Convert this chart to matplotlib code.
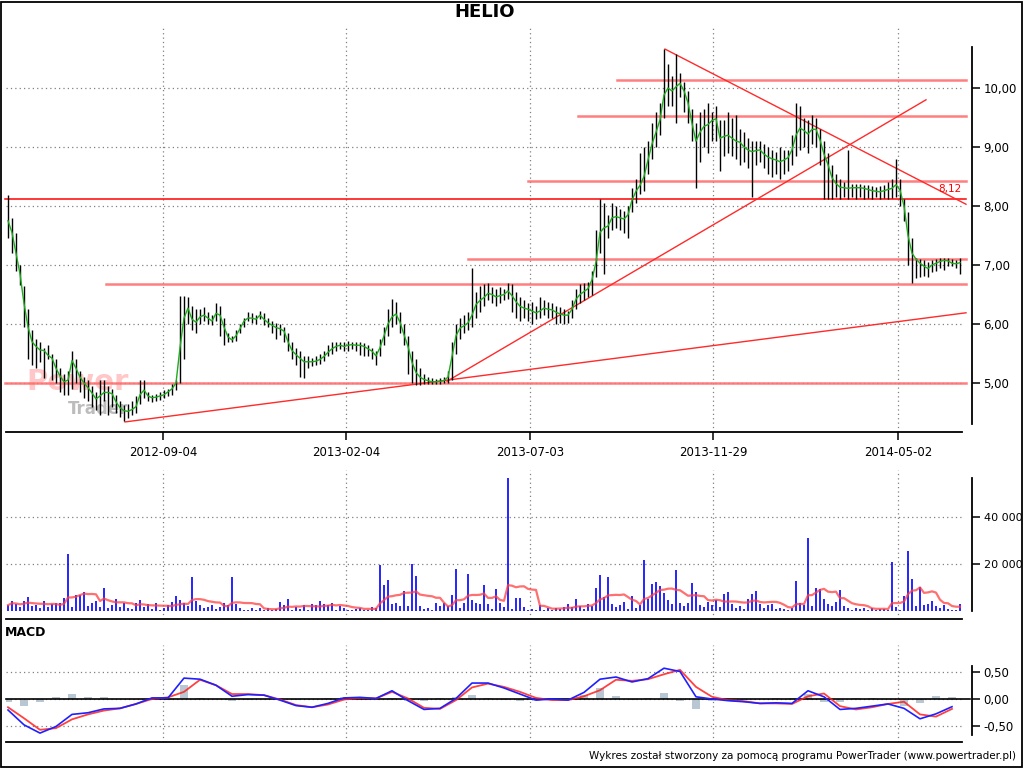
import numpy as np
import pandas as pd
import matplotlib
matplotlib.use("Agg")
import matplotlib.pyplot as plt
from matplotlib.patches import Rectangle
from matplotlib.ticker import FuncFormatter

# ---------------- data ----------------
title = "HELIO"
tick_labels = ["2012-09-04", "2013-02-04", "2013-07-03", "2013-11-29", "2014-05-02"]
tick_pos = [38.75, 84.5, 130.5, 176.25, 222.5]

avg = [7.75,7.55,7.20,6.85,6.35,5.95,5.70,5.62,5.56,5.55,
 5.47,5.42,5.25,5.12,5.02,5.05,5.38,5.25,5.10,5.00,
 4.92,4.83,4.73,4.78,4.84,4.84,4.82,4.68,4.58,4.53,
 4.52,4.55,4.60,4.80,4.88,4.78,4.75,4.76,4.78,4.80,
 4.85,4.90,5.00,5.60,6.10,6.27,6.08,6.03,6.12,6.15,
 6.10,6.05,6.18,6.15,5.95,5.78,5.73,5.80,5.92,6.05,
 6.10,6.10,6.08,6.15,6.08,6.02,5.98,5.94,5.92,5.88,
 5.70,5.55,5.48,5.42,5.36,5.36,5.36,5.37,5.40,5.45,
 5.52,5.58,5.62,5.64,5.62,5.64,5.65,5.64,5.64,5.62,
 5.58,5.54,5.46,5.60,5.80,6.00,6.12,6.17,6.03,5.82,
 5.62,5.35,5.18,5.10,5.06,5.04,5.02,5.02,5.03,5.04,
 5.10,5.45,5.80,5.93,5.97,6.02,6.15,6.33,6.40,6.45,
 6.52,6.50,6.46,6.48,6.50,6.56,6.48,6.38,6.30,6.27,
 6.25,6.22,6.19,6.22,6.27,6.25,6.24,6.20,6.17,6.15,
 6.15,6.25,6.42,6.50,6.55,6.60,6.75,7.05,7.55,7.63,
 7.66,7.80,7.82,7.80,7.78,7.85,8.10,8.25,8.35,8.50,
 8.78,9.05,9.25,9.46,9.88,10.00,9.95,10.02,10.08,9.95,
 9.75,9.40,9.10,9.25,9.35,9.38,9.45,9.48,9.15,9.18,
 9.20,9.15,9.10,9.08,9.00,8.95,8.92,8.94,8.95,8.88,
 8.83,8.80,8.78,8.75,8.78,8.82,8.95,9.20,9.32,9.28,
 9.22,9.30,9.30,9.12,8.88,8.70,8.48,8.38,8.32,8.31,
 8.30,8.31,8.31,8.31,8.30,8.28,8.26,8.25,8.24,8.26,
 8.28,8.30,8.36,8.27,8.00,7.50,7.20,7.10,7.03,6.98,
 6.94,7.00,7.03,7.06,7.08,7.07,7.03,7.02,7.04]

high = [8.19,7.80,7.55,7.00,6.65,6.25,5.90,5.75,5.70,5.60,
 5.65,5.50,5.40,5.25,5.15,5.20,5.55,5.40,5.20,5.10,
 5.05,4.95,4.85,5.05,5.05,4.95,4.90,4.80,4.70,4.62,
 4.65,4.70,4.78,5.05,5.05,4.85,4.80,4.82,4.85,4.88,
 4.90,4.98,5.05,6.48,6.47,6.45,6.30,6.25,6.25,6.28,
 6.20,6.15,6.35,6.30,6.10,5.85,5.80,5.90,6.00,6.10,
 6.20,6.18,6.15,6.22,6.18,6.10,6.05,6.02,6.00,5.95,
 5.85,5.70,5.60,5.55,5.45,5.45,5.42,5.45,5.50,5.55,
 5.65,5.70,5.70,5.70,5.70,5.72,5.70,5.70,5.70,5.68,
 5.65,5.60,5.55,5.75,5.95,6.25,6.42,6.38,6.20,6.00,
 5.80,5.55,5.40,5.25,5.15,5.10,5.08,5.06,5.08,5.10,
 5.20,5.70,6.00,6.10,6.15,6.20,6.95,6.55,6.65,6.68,
 6.70,6.62,6.60,6.62,6.60,6.70,6.68,6.55,6.45,6.40,
 6.35,6.38,6.30,6.45,6.40,6.38,6.35,6.30,6.28,6.25,
 6.22,6.40,6.60,6.68,6.70,6.72,6.90,7.60,8.12,8.05,
 7.85,8.05,8.00,7.95,7.92,8.00,8.30,8.45,8.90,9.00,
 9.10,9.40,9.60,9.75,10.66,10.40,10.20,10.58,10.25,10.10,
 9.95,9.65,9.40,9.60,9.65,9.75,9.60,9.70,9.45,9.45,
 9.60,9.50,9.55,9.30,9.25,9.15,9.10,9.10,9.10,9.05,
 9.00,8.95,8.92,9.00,8.95,8.95,9.20,9.75,9.70,9.50,
 9.45,9.55,9.50,9.30,9.10,8.90,8.70,8.55,8.45,8.40,
 8.95,8.38,8.38,8.38,8.36,8.35,8.34,8.32,8.34,8.36,
 8.40,8.45,8.80,8.45,8.12,7.90,7.45,7.12,7.10,7.08,
 7.05,7.08,7.10,7.12,7.12,7.12,7.10,7.08,7.12]

low = [7.45,7.20,6.90,6.66,5.95,5.40,5.30,5.25,5.35,5.08,
 5.40,5.05,5.00,4.85,4.80,4.80,4.90,5.00,4.85,4.75,
 4.70,4.60,4.55,4.45,4.70,4.45,4.60,4.50,4.42,4.36,
 4.40,4.45,4.50,4.65,4.75,4.70,4.68,4.70,4.72,4.75,
 4.78,4.80,4.88,5.00,5.40,6.00,5.90,5.85,6.00,6.05,
 6.00,5.98,6.05,5.80,5.65,5.70,5.70,5.72,5.85,5.95,
 6.05,6.02,6.00,6.08,5.98,5.95,5.85,5.75,5.82,5.70,
 5.55,5.40,5.30,5.10,5.08,5.25,5.28,5.30,5.32,5.38,
 5.45,5.50,5.55,5.58,5.55,5.55,5.58,5.55,5.48,5.45,
 5.45,5.40,5.30,5.45,5.65,5.80,5.95,6.00,5.85,5.65,
 5.15,5.00,4.97,4.97,4.98,4.98,4.98,4.98,4.99,5.00,
 5.00,5.05,5.50,5.75,5.85,5.90,5.95,6.10,6.20,6.30,
 6.40,6.35,6.30,6.35,6.40,6.42,6.20,6.10,6.05,6.10,
 6.05,6.00,6.08,6.10,6.15,6.10,6.10,6.00,6.02,6.00,
 6.02,6.10,6.25,6.35,6.40,6.45,6.50,6.80,7.20,6.85,
 7.45,7.60,7.62,7.60,7.55,7.45,7.90,8.05,8.20,8.25,
 8.55,8.80,9.00,9.20,9.50,9.70,9.70,9.40,9.85,9.60,
 9.40,9.10,8.30,8.75,9.00,8.90,9.10,9.10,8.60,8.85,
 8.90,8.85,8.80,8.70,8.75,8.65,8.15,8.70,8.75,8.65,
 8.55,8.50,8.55,8.45,8.55,8.60,8.70,8.85,8.95,9.00,
 8.90,9.05,9.00,8.70,8.12,8.12,8.12,8.15,8.12,8.15,
 8.12,8.15,8.12,8.15,8.12,8.14,8.12,8.15,8.12,8.14,
 8.12,8.14,8.15,8.00,7.75,7.00,6.70,6.78,6.80,6.82,
 6.80,6.88,6.90,6.95,6.92,6.98,6.98,6.95,6.85]

volume = [2500,4100,3000,1800,4100,6000,2000,2400,1200,4100,
 1500,2800,3600,3200,5400,24100,1500,6700,6700,8000,
 2000,3600,4100,1500,9700,1200,2500,5000,1800,3600,
 1300,1000,3200,4500,1800,2800,1000,3200,600,1200,
 2400,3700,6200,4500,3200,2000,14300,4100,2400,1400,
 1800,2400,800,1500,3300,2400,14300,3000,1400,600,
 400,1400,400,1400,300,1100,400,700,3700,2400,
 5000,500,1700,700,2400,500,2800,2400,4100,2800,
 2400,3600,400,2000,1200,600,400,900,1400,300,
 500,1800,1400,19500,11000,13000,3000,3300,2000,8400,
 2000,20200,14900,2100,800,1200,600,3300,2000,3400,
 2000,6700,17700,1100,3600,15600,4500,3300,2800,11000,
 2800,900,9200,3300,1500,56500,900,5700,5500,1500,
 400,1000,400,2400,500,1200,600,1400,800,1700,
 2800,1500,5000,2000,700,3000,2000,10000,15300,5800,
 14300,2800,1800,2400,4000,1000,6400,1400,2400,21600,
 5000,11400,12500,10800,7500,4800,2800,17300,3600,2000,
 3200,12000,8000,2400,1800,4000,2400,4600,1500,7400,
 8000,2800,1400,2000,1000,5000,7100,8500,2800,1400,
 2400,3000,1000,1400,800,500,1200,12600,3600,2400,
 31000,2000,9700,9200,5000,3000,2000,4000,8800,2000,
 1200,500,1400,800,1100,500,1400,600,1000,800,
 400,21000,1500,600,6200,25400,13500,2000,10100,2500,
 3000,4200,2000,1200,2400,1000,600,300,2800]

macd = [-0.20,-0.47,-0.62,-0.50,-0.28,-0.25,-0.18,-0.17,-0.09,0.02,
 0.02,0.38,0.36,0.25,0.05,0.08,0.07,-0.02,-0.12,-0.15,
 -0.08,0.02,0.03,0.01,0.15,-0.03,-0.19,-0.17,0.01,0.29,
 0.29,0.20,0.09,-0.02,0.00,-0.02,0.12,0.36,0.40,0.31,
 0.37,0.56,0.50,0.04,0.00,-0.03,-0.05,-0.08,-0.07,-0.08,
 0.15,0.04,-0.19,-0.17,-0.13,-0.09,-0.17,-0.36,-0.27,-0.14]
signal = [-0.15,-0.35,-0.56,-0.53,-0.37,-0.28,-0.21,-0.17,-0.09,0.00,
 0.03,0.13,0.35,0.25,0.09,0.09,0.07,-0.01,-0.11,-0.15,
 -0.10,-0.01,0.02,0.01,0.13,0.01,-0.16,-0.18,-0.02,0.21,
 0.28,0.22,0.13,0.02,-0.02,-0.02,0.05,0.16,0.35,0.33,
 0.36,0.45,0.53,0.22,0.04,-0.02,-0.04,-0.08,-0.08,-0.09,
 0.05,0.10,-0.13,-0.19,-0.15,-0.09,-0.05,-0.28,-0.32,-0.18]

levels = [10.13, 9.52, 8.43, 7.10, 6.68, 5.00]
level_start = [152.25, 142.5, 130.0, 115.0, 24.5, -0.75]
support = 8.12
trend_lines = [((29.25, 4.34), (239.5, 6.19)),
               ((109.75, 5.03), (229.5, 9.80)),
               ((164.25, 10.66), (239.5, 8.03))]

# ---------------- figure ----------------
W, H = 1024, 768
fig = plt.figure(figsize=(W / 100, H / 100), dpi=100)
fig.patch.set_facecolor("white")

def rect(l, t, r, b):
    return [l / W, 1 - b / H, (r - l) / W, (b - t) / H]

n = len(avg)
idx = np.arange(n)
xl = (-0.5, n - 0.5)
grid_kw = dict(color="#808080", linestyle=(0, (1, 2.5)), linewidth=0.9)
tick_font = 8.5

def style(ax, ylo, yhi, bounds):
    for s in ("top", "left"):
        ax.spines[s].set_visible(False)
    ax.spines["right"].set_position(("outward", 7))
    ax.spines["right"].set_bounds(*bounds)
    ax.spines["right"].set_linewidth(1.3)
    ax.spines["bottom"].set_linewidth(1.3)
    ax.yaxis.tick_right()
    ax.tick_params(axis="y", direction="out", length=5.5, width=1.1,
                   labelsize=tick_font, pad=3)
    ax.set_xlim(*xl)
    ax.set_ylim(ylo, yhi)
    ax.set_xticks(tick_pos)
    ax.set_axisbelow(True)
    ax.grid(True, **grid_kw)

comma = FuncFormatter(lambda v, p: ("%.2f" % v).replace(".", ","))

# ---- price panel ----
ax = fig.add_axes(rect(6, 28, 962, 432))
style(ax, 4.1695, 11.017, (4.31, 10.69))
ax.set_yticks([5, 6, 7, 8, 9, 10])
ax.yaxis.set_major_formatter(comma)
ax.set_xticklabels(tick_labels)
ax.tick_params(axis="x", direction="out", length=6, width=1.1,
               labelsize=tick_font, pad=4)

# watermark
ax.text(17.5, 5.02, "Power", fontsize=21, fontweight="bold", color="#ff9a9a",
        alpha=0.55, ha="center", va="center", zorder=1)
ax.text(22.5, 4.56, "Trader", fontsize=12, fontweight="bold", color="#a0a0a0",
        alpha=0.7, ha="center", va="center", zorder=1)

for lv, st in zip(levels, level_start):
    ax.plot([st, n + 0.5], [lv, lv], color="#ff7070", lw=1.8, alpha=0.9,
            clip_on=False, zorder=2)
ax.plot([-0.75, n + 0.5], [support, support], color="#ff0000", lw=1.1,
        clip_on=False, zorder=2)
ax.text(n - 3.5, support + 0.17, "8,12", color="#ff0000", fontsize=7.5,
        ha="center", va="center")
for (x0, y0), (x1, y1) in trend_lines:
    ax.plot([x0, x1], [y0, y1], color="#ff2a2a", lw=1.0, clip_on=False, zorder=2)

ax.vlines(idx, low, high, color="black", lw=1.0, zorder=3)
ax.plot(idx, avg, color="#1faa1f", lw=1.0, zorder=4)

fig.text(485 / W, 1 - 12 / H, title, fontsize=13, fontweight="bold",
         ha="center", va="center")

# ---- volume panel ----
av = fig.add_axes(rect(6, 470, 962, 619))
style(av, -3404, 60000, (0, 56500))
av.set_yticks([20000, 40000])
av.yaxis.set_major_formatter(FuncFormatter(lambda v, p: "{:,.0f}".format(v).replace(",", " ")))
av.tick_params(axis="y", labelsize=8)
av.set_xticklabels([])
av.tick_params(axis="x", length=0)
av.vlines(idx, 0, volume, color="#0000ff", lw=1.2, zorder=3)
vol_ma = pd.Series(volume).rolling(8, min_periods=1).mean()
av.plot(idx, vol_ma, color="#ff4040", lw=1.6, alpha=0.75, zorder=4)

# ---- MACD panel ----
am = fig.add_axes(rect(6, 645, 962, 742))
style(am, -0.782, 0.982, (-0.65, 0.6))
am.set_yticks([-0.5, 0, 0.5])
am.yaxis.set_major_formatter(comma)
am.set_xticklabels([])
am.tick_params(axis="x", length=0)
m_idx = np.arange(0, n, 4)[:len(macd)]
hist = np.array(macd) - np.array(signal)
am.bar(m_idx, hist, width=1.8, color="#8aa2b4", alpha=0.6, zorder=2)
am.plot([-0.5, n + 1.5], [0, 0], color="black", lw=1.2, clip_on=False, zorder=3)
am.plot(m_idx, signal, color="#ff2020", lw=1.3, alpha=0.85, zorder=4)
am.plot(m_idx, macd, color="#2020ff", lw=1.2, zorder=5)

fig.text(5 / W, 1 - 632 / H, "MACD", fontsize=9, fontweight="bold",
         ha="left", va="center")
fig.text(1016 / W, 1 - 756 / H,
         "Wykres został stworzony za pomocą programu PowerTrader (www.powertrader.pl)",
         fontsize=7.5, ha="right", va="center")

fig.patches.append(Rectangle((0.5 / W, 1.5 / H), (W - 3) / W, (H - 3) / H,
                             transform=fig.transFigure, fill=False,
                             edgecolor="black", lw=1.3))

fig.savefig("out.png", dpi=100)
